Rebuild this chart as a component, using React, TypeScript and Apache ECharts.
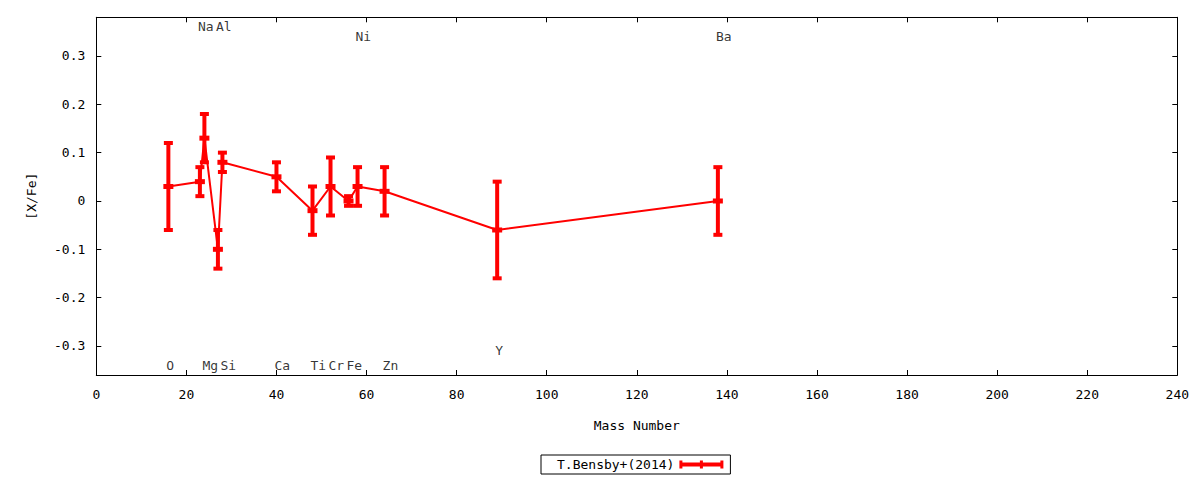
import React, { useEffect, useRef } from "react";
import * as echarts from "echarts";

// Element abundance data (T.Bensby+ 2014)
const elements = ["O", "Na", "Mg", "Al", "Si", "Ca", "Ti", "Cr", "Fe", "Ni", "Zn", "Y", "Ba"];
const massNumbers = [16, 23, 24, 27, 28, 40, 48, 52, 56, 58, 64, 89, 138];
const xFeValues = [0.03, 0.04, 0.13, -0.1, 0.08, 0.05, -0.02, 0.03, 0.0, 0.03, 0.02, -0.06, 0.0];
const xFeErrors = [0.09, 0.03, 0.05, 0.04, 0.02, 0.03, 0.05, 0.06, 0.01, 0.04, 0.05, 0.1, 0.07];
// vertical placement of the element name labels (in [X/Fe] units)
const labelHeights = [-0.34, 0.36, -0.34, 0.36, -0.34, -0.34, -0.34, -0.34, -0.34, 0.34, -0.34, -0.31, 0.34];

const seriesName = "T.Bensby+(2014)";
const xTitle = "Mass Number";
const yTitle = "[X/Fe]";

const FONT = "DejaVu Sans Mono";
const RED = "#ff0000";

export default function App() {
  const ref = useRef<HTMLDivElement>(null);

  useEffect(() => {
    if (!ref.current) return;
    const chart = echarts.init(ref.current, null, { renderer: "svg" });

    const lineData = massNumbers.map((m, i) => [m, xFeValues[i]]);
    const errData = massNumbers.map((m, i) => [m, xFeValues[i], xFeErrors[i]]);
    const labelData = massNumbers.map((m, i) => ({ value: [m, labelHeights[i]], name: elements[i] }));

    const fmtY = (v: number) => {
      const r = Math.round(v * 100) / 100;
      if (Math.abs(Math.round(r * 10) - r * 10) > 1e-6) return "";
      if (Math.abs(r) < 1e-9) return "0";
      return String(r);
    };

    const axisCommon = {
      axisLine: { show: true, onZero: false, lineStyle: { color: "#000", width: 1 } },
      axisTick: { show: true, inside: true, length: 5, lineStyle: { color: "#000", width: 1 } },
      splitLine: { show: false },
    };

    const option: any = {
      animation: false,
      backgroundColor: "#fff",
      textStyle: { fontFamily: FONT },
      grid: { left: 96.3, right: 22.7, top: 17.3, bottom: 105, containLabel: false },
      legend: {
        data: [seriesName],
        left: 541,
        top: 455,
        orient: "horizontal",
        align: "right",
        itemWidth: 44,
        itemHeight: 8,
        icon: "path://M0,0h3v8h-3Z M41,0h3v8h-3Z M20.5,0h3v8h-3Z M0,2h44v4h-44Z",
        borderColor: "#000",
        borderWidth: 1,
        borderRadius: 0,
        padding: [3, 7, 3, 16],
        textStyle: { fontFamily: FONT, fontSize: 13, color: "#000" },
        selectedMode: false,
      },
      xAxis: [
        {
          type: "value",
          min: 0,
          max: 240,
          interval: 20,
          position: "bottom",
          name: xTitle,
          nameLocation: "middle",
          nameGap: 44,
          nameTextStyle: { fontFamily: FONT, fontSize: 13, color: "#000" },
          axisLabel: { fontFamily: FONT, fontSize: 13, color: "#000", margin: 13 },
          ...axisCommon,
        },
        {
          type: "value",
          min: 0,
          max: 240,
          interval: 20,
          position: "top",
          axisLabel: { show: false },
          ...axisCommon,
        },
      ],
      yAxis: [
        {
          type: "value",
          min: -0.36,
          max: 0.38,
          splitNumber: 7,
          position: "left",
          name: yTitle,
          nameLocation: "middle",
          nameGap: 58,
          nameRotate: 90,
          nameTextStyle: { fontFamily: FONT, fontSize: 13, color: "#000" },
          axisLabel: {
            fontFamily: FONT,
            fontSize: 13,
            color: "#000",
            margin: 11,
            showMinLabel: false,
            showMaxLabel: false,
            formatter: (v: number) => fmtY(v),
          },
          ...axisCommon,
        },
        {
          type: "value",
          min: -0.36,
          max: 0.38,
          splitNumber: 7,
          position: "right",
          axisLabel: { show: false },
          ...axisCommon,
        },
      ],
      series: [
        {
          name: seriesName,
          type: "line",
          data: lineData,
          symbol: "none",
          lineStyle: { color: RED, width: 2 },
          itemStyle: { color: RED },
          z: 3,
        },
        {
          name: seriesName + " err",
          type: "custom",
          data: errData,
          encode: { x: 0, y: 1 },
          z: 4,
          renderItem: (params: any, api: any) => {
            const x = api.value(0);
            const y = api.value(1);
            const e = api.value(2);
            const top = api.coord([x, y + e]);
            const bot = api.coord([x, y - e]);
            const mid = api.coord([x, y]);
            const st = { fill: RED };
            return {
              type: "group",
              children: [
                { type: "rect", shape: { x: top[0] - 2, y: top[1], width: 4, height: bot[1] - top[1] }, style: st },
                { type: "rect", shape: { x: top[0] - 4.5, y: top[1] - 2, width: 9, height: 4 }, style: st },
                { type: "rect", shape: { x: bot[0] - 4.5, y: bot[1] - 2, width: 9, height: 4 }, style: st },
                { type: "rect", shape: { x: mid[0] - 5, y: mid[1] - 2.5, width: 10, height: 5 }, style: st },
              ],
            };
          },
        },
        {
          name: "labels",
          type: "scatter",
          data: labelData,
          symbolSize: 0,
          itemStyle: { color: "rgba(0,0,0,0)" },
          silent: true,
          z: 5,
          label: {
            show: true,
            formatter: (p: any) => p.name,
            position: [-2, 0],
            align: "left",
            verticalAlign: "middle",
            fontFamily: FONT,
            fontSize: 13,
            color: "#000",
          },
        },
      ],
    };

    chart.setOption(option);
    return () => chart.dispose();
  }, []);

  return (
    <div
      ref={ref}
      style={{ position: "fixed", left: 0, top: 0, width: "1200px", height: "480px", background: "#fff" }}
    />
  );
}
